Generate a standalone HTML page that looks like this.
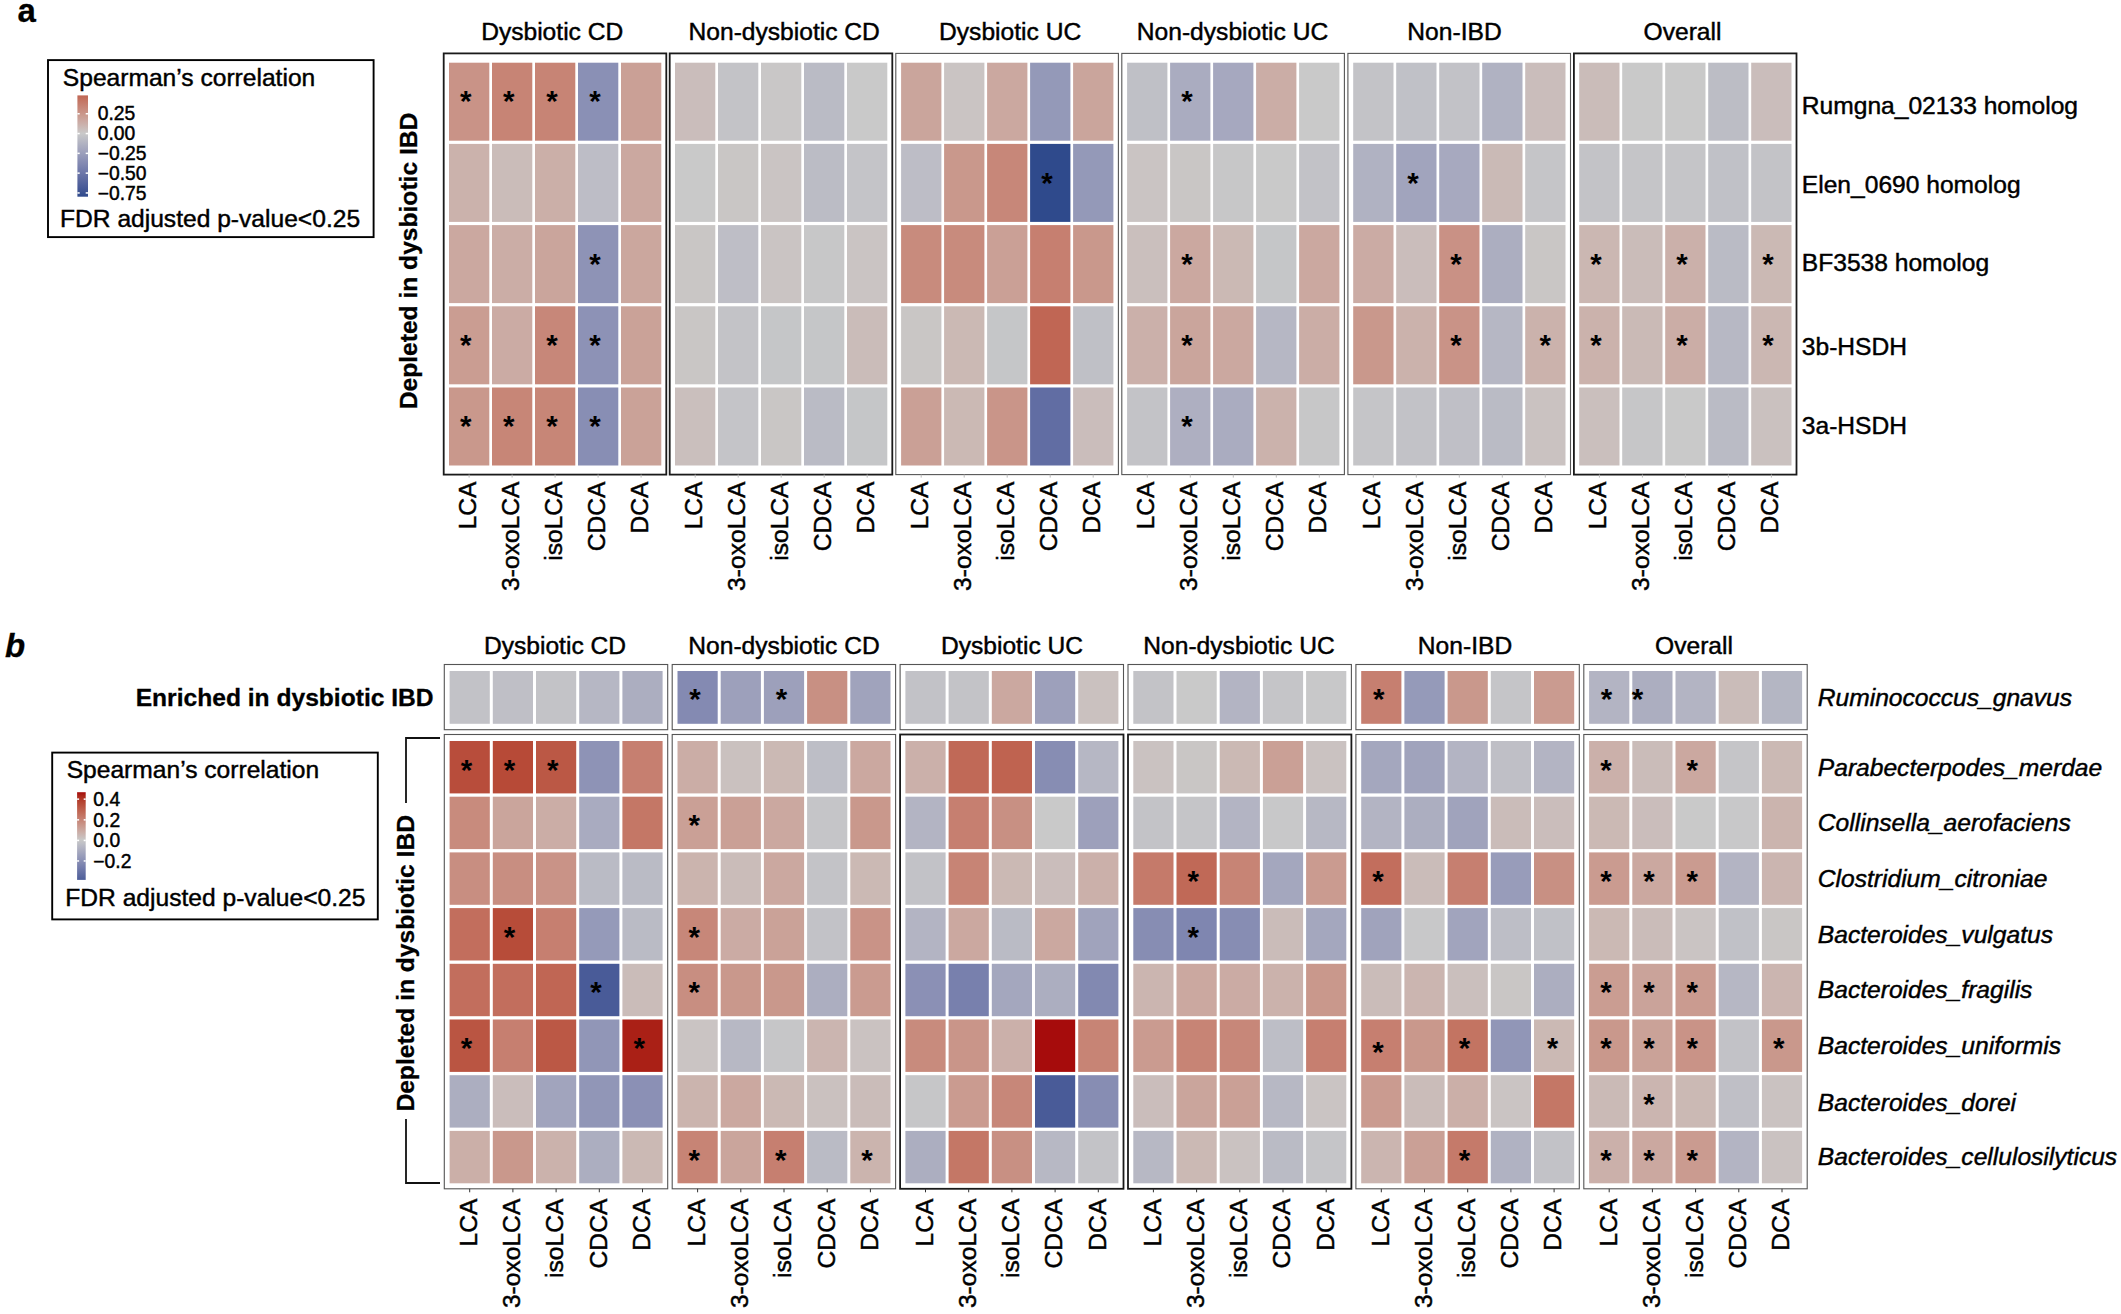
<!DOCTYPE html>
<html lang="en"><head><meta charset="utf-8"><title>Figure</title>
<style>html,body{margin:0;padding:0;background:#fff}svg{display:block}text{stroke:#000;stroke-width:.45px}text[font-weight=bold]{stroke-width:.3px}text.st{stroke:none}</style></head>
<body>
<svg width="2121" height="1314" viewBox="0 0 2121 1314" font-family='"Liberation Sans", Arial, Helvetica, sans-serif' font-size="24.6" fill="#000">
<rect x="0" y="0" width="2121" height="1314" fill="#fff"/>
<rect x="449.0" y="62.7" width="40.3" height="78.0" fill="#C99387"/>
<rect x="492.0" y="62.7" width="40.3" height="78.0" fill="#C78475"/>
<rect x="535.0" y="62.7" width="40.3" height="78.0" fill="#C78475"/>
<rect x="578.0" y="62.7" width="40.3" height="78.0" fill="#8A90B5"/>
<rect x="621.0" y="62.7" width="40.3" height="78.0" fill="#CAA096"/>
<rect x="449.0" y="143.9" width="40.3" height="78.0" fill="#CBB2AC"/>
<rect x="492.0" y="143.9" width="40.3" height="78.0" fill="#CABCB9"/>
<rect x="535.0" y="143.9" width="40.3" height="78.0" fill="#CBAFA8"/>
<rect x="578.0" y="143.9" width="40.3" height="78.0" fill="#BDBDC6"/>
<rect x="621.0" y="143.9" width="40.3" height="78.0" fill="#CBA8A0"/>
<rect x="449.0" y="225.1" width="40.3" height="78.0" fill="#CBA8A0"/>
<rect x="492.0" y="225.1" width="40.3" height="78.0" fill="#CBADA6"/>
<rect x="535.0" y="225.1" width="40.3" height="78.0" fill="#CAA59C"/>
<rect x="578.0" y="225.1" width="40.3" height="78.0" fill="#8E93B6"/>
<rect x="621.0" y="225.1" width="40.3" height="78.0" fill="#CBA79E"/>
<rect x="449.0" y="306.3" width="40.3" height="78.0" fill="#CA9D92"/>
<rect x="492.0" y="306.3" width="40.3" height="78.0" fill="#CBABA4"/>
<rect x="535.0" y="306.3" width="40.3" height="78.0" fill="#C78779"/>
<rect x="578.0" y="306.3" width="40.3" height="78.0" fill="#8D92B6"/>
<rect x="621.0" y="306.3" width="40.3" height="78.0" fill="#CAA298"/>
<rect x="449.0" y="387.5" width="40.3" height="78.0" fill="#C9988C"/>
<rect x="492.0" y="387.5" width="40.3" height="78.0" fill="#C78677"/>
<rect x="535.0" y="387.5" width="40.3" height="78.0" fill="#C78677"/>
<rect x="578.0" y="387.5" width="40.3" height="78.0" fill="#888EB4"/>
<rect x="621.0" y="387.5" width="40.3" height="78.0" fill="#CAA298"/>
<rect x="443.7" y="53.4" width="222.6" height="421.2" fill="none" stroke="#1a1a1a" stroke-width="1.8"/>
<text x="552.2" y="40" text-anchor="middle">Dysbiotic CD</text>
<line x1="469.1" y1="474.6" x2="469.1" y2="477.6" stroke="#bbb" stroke-width="1"/>
<text transform="translate(476.1,481.5) rotate(-90)" text-anchor="end">LCA</text>
<line x1="512.1" y1="474.6" x2="512.1" y2="477.6" stroke="#bbb" stroke-width="1"/>
<text transform="translate(519.1,481.5) rotate(-90)" text-anchor="end">3-oxoLCA</text>
<line x1="555.1" y1="474.6" x2="555.1" y2="477.6" stroke="#bbb" stroke-width="1"/>
<text transform="translate(562.1,481.5) rotate(-90)" text-anchor="end">isoLCA</text>
<line x1="598.1" y1="474.6" x2="598.1" y2="477.6" stroke="#bbb" stroke-width="1"/>
<text transform="translate(605.1,481.5) rotate(-90)" text-anchor="end">CDCA</text>
<line x1="641.1" y1="474.6" x2="641.1" y2="477.6" stroke="#bbb" stroke-width="1"/>
<text transform="translate(648.1,481.5) rotate(-90)" text-anchor="end">DCA</text>
<text class="st" x="465.8" y="96.7" text-anchor="middle" font-weight="bold" font-size="29.5" dy="14.7">*</text>
<text class="st" x="508.8" y="96.7" text-anchor="middle" font-weight="bold" font-size="29.5" dy="14.7">*</text>
<text class="st" x="551.9" y="96.7" text-anchor="middle" font-weight="bold" font-size="29.5" dy="14.7">*</text>
<text class="st" x="594.9" y="96.7" text-anchor="middle" font-weight="bold" font-size="29.5" dy="14.7">*</text>
<text class="st" x="594.9" y="259.1" text-anchor="middle" font-weight="bold" font-size="29.5" dy="14.7">*</text>
<text class="st" x="465.8" y="340.3" text-anchor="middle" font-weight="bold" font-size="29.5" dy="14.7">*</text>
<text class="st" x="551.9" y="340.3" text-anchor="middle" font-weight="bold" font-size="29.5" dy="14.7">*</text>
<text class="st" x="594.9" y="340.3" text-anchor="middle" font-weight="bold" font-size="29.5" dy="14.7">*</text>
<text class="st" x="465.8" y="421.5" text-anchor="middle" font-weight="bold" font-size="29.5" dy="14.7">*</text>
<text class="st" x="508.8" y="421.5" text-anchor="middle" font-weight="bold" font-size="29.5" dy="14.7">*</text>
<text class="st" x="551.9" y="421.5" text-anchor="middle" font-weight="bold" font-size="29.5" dy="14.7">*</text>
<text class="st" x="594.9" y="421.5" text-anchor="middle" font-weight="bold" font-size="29.5" dy="14.7">*</text>
<rect x="675.0" y="62.7" width="40.3" height="78.0" fill="#CABDBB"/>
<rect x="718.0" y="62.7" width="40.3" height="78.0" fill="#C3C3C7"/>
<rect x="761.0" y="62.7" width="40.3" height="78.0" fill="#C9C7C7"/>
<rect x="804.0" y="62.7" width="40.3" height="78.0" fill="#BABBC5"/>
<rect x="847.0" y="62.7" width="40.3" height="78.0" fill="#C9C9C9"/>
<rect x="675.0" y="143.9" width="40.3" height="78.0" fill="#C9C9C9"/>
<rect x="718.0" y="143.9" width="40.3" height="78.0" fill="#C9C6C5"/>
<rect x="761.0" y="143.9" width="40.3" height="78.0" fill="#CAC4C3"/>
<rect x="804.0" y="143.9" width="40.3" height="78.0" fill="#BBBCC5"/>
<rect x="847.0" y="143.9" width="40.3" height="78.0" fill="#C4C4C8"/>
<rect x="675.0" y="225.1" width="40.3" height="78.0" fill="#C9C6C5"/>
<rect x="718.0" y="225.1" width="40.3" height="78.0" fill="#BEBEC6"/>
<rect x="761.0" y="225.1" width="40.3" height="78.0" fill="#CAC4C3"/>
<rect x="804.0" y="225.1" width="40.3" height="78.0" fill="#C7C7C8"/>
<rect x="847.0" y="225.1" width="40.3" height="78.0" fill="#CAC4C3"/>
<rect x="675.0" y="306.3" width="40.3" height="78.0" fill="#C9C6C5"/>
<rect x="718.0" y="306.3" width="40.3" height="78.0" fill="#C3C3C7"/>
<rect x="761.0" y="306.3" width="40.3" height="78.0" fill="#C5C6C8"/>
<rect x="804.0" y="306.3" width="40.3" height="78.0" fill="#C5C6C8"/>
<rect x="847.0" y="306.3" width="40.3" height="78.0" fill="#CABCB9"/>
<rect x="675.0" y="387.5" width="40.3" height="78.0" fill="#CABFBD"/>
<rect x="718.0" y="387.5" width="40.3" height="78.0" fill="#C4C4C8"/>
<rect x="761.0" y="387.5" width="40.3" height="78.0" fill="#C9C6C5"/>
<rect x="804.0" y="387.5" width="40.3" height="78.0" fill="#BABBC5"/>
<rect x="847.0" y="387.5" width="40.3" height="78.0" fill="#C5C6C8"/>
<rect x="669.7" y="53.4" width="222.6" height="421.2" fill="none" stroke="#1a1a1a" stroke-width="1.8"/>
<text x="784.2" y="40" text-anchor="middle">Non-dysbiotic CD</text>
<line x1="695.2" y1="474.6" x2="695.2" y2="477.6" stroke="#bbb" stroke-width="1"/>
<text transform="translate(702.2,481.5) rotate(-90)" text-anchor="end">LCA</text>
<line x1="738.2" y1="474.6" x2="738.2" y2="477.6" stroke="#bbb" stroke-width="1"/>
<text transform="translate(745.2,481.5) rotate(-90)" text-anchor="end">3-oxoLCA</text>
<line x1="781.2" y1="474.6" x2="781.2" y2="477.6" stroke="#bbb" stroke-width="1"/>
<text transform="translate(788.2,481.5) rotate(-90)" text-anchor="end">isoLCA</text>
<line x1="824.2" y1="474.6" x2="824.2" y2="477.6" stroke="#bbb" stroke-width="1"/>
<text transform="translate(831.2,481.5) rotate(-90)" text-anchor="end">CDCA</text>
<line x1="867.2" y1="474.6" x2="867.2" y2="477.6" stroke="#bbb" stroke-width="1"/>
<text transform="translate(874.2,481.5) rotate(-90)" text-anchor="end">DCA</text>
<rect x="901.1" y="62.7" width="40.3" height="78.0" fill="#CAA59C"/>
<rect x="944.1" y="62.7" width="40.3" height="78.0" fill="#CAC4C3"/>
<rect x="987.1" y="62.7" width="40.3" height="78.0" fill="#CBA8A0"/>
<rect x="1030.1" y="62.7" width="40.3" height="78.0" fill="#9499B8"/>
<rect x="1073.1" y="62.7" width="40.3" height="78.0" fill="#CAA59C"/>
<rect x="901.1" y="143.9" width="40.3" height="78.0" fill="#BDBDC6"/>
<rect x="944.1" y="143.9" width="40.3" height="78.0" fill="#C9988C"/>
<rect x="987.1" y="143.9" width="40.3" height="78.0" fill="#C78779"/>
<rect x="1030.1" y="143.9" width="40.3" height="78.0" fill="#2F4A8C"/>
<rect x="1073.1" y="143.9" width="40.3" height="78.0" fill="#9499B8"/>
<rect x="901.1" y="225.1" width="40.3" height="78.0" fill="#C88B7D"/>
<rect x="944.1" y="225.1" width="40.3" height="78.0" fill="#C88B7D"/>
<rect x="987.1" y="225.1" width="40.3" height="78.0" fill="#CAA096"/>
<rect x="1030.1" y="225.1" width="40.3" height="78.0" fill="#C67F70"/>
<rect x="1073.1" y="225.1" width="40.3" height="78.0" fill="#C9988C"/>
<rect x="901.1" y="306.3" width="40.3" height="78.0" fill="#C9C6C5"/>
<rect x="944.1" y="306.3" width="40.3" height="78.0" fill="#CBB9B4"/>
<rect x="987.1" y="306.3" width="40.3" height="78.0" fill="#C5C6C8"/>
<rect x="1030.1" y="306.3" width="40.3" height="78.0" fill="#C06654"/>
<rect x="1073.1" y="306.3" width="40.3" height="78.0" fill="#BFC0C6"/>
<rect x="901.1" y="387.5" width="40.3" height="78.0" fill="#CAA096"/>
<rect x="944.1" y="387.5" width="40.3" height="78.0" fill="#CBB9B4"/>
<rect x="987.1" y="387.5" width="40.3" height="78.0" fill="#C99589"/>
<rect x="1030.1" y="387.5" width="40.3" height="78.0" fill="#616DA3"/>
<rect x="1073.1" y="387.5" width="40.3" height="78.0" fill="#CABDBB"/>
<rect x="895.8" y="53.4" width="222.6" height="421.2" fill="none" stroke="#555" stroke-width="1.1"/>
<text x="1010.1" y="40" text-anchor="middle">Dysbiotic UC</text>
<line x1="921.2" y1="474.6" x2="921.2" y2="477.6" stroke="#bbb" stroke-width="1"/>
<text transform="translate(928.2,481.5) rotate(-90)" text-anchor="end">LCA</text>
<line x1="964.2" y1="474.6" x2="964.2" y2="477.6" stroke="#bbb" stroke-width="1"/>
<text transform="translate(971.2,481.5) rotate(-90)" text-anchor="end">3-oxoLCA</text>
<line x1="1007.2" y1="474.6" x2="1007.2" y2="477.6" stroke="#bbb" stroke-width="1"/>
<text transform="translate(1014.2,481.5) rotate(-90)" text-anchor="end">isoLCA</text>
<line x1="1050.2" y1="474.6" x2="1050.2" y2="477.6" stroke="#bbb" stroke-width="1"/>
<text transform="translate(1057.2,481.5) rotate(-90)" text-anchor="end">CDCA</text>
<line x1="1093.2" y1="474.6" x2="1093.2" y2="477.6" stroke="#bbb" stroke-width="1"/>
<text transform="translate(1100.2,481.5) rotate(-90)" text-anchor="end">DCA</text>
<text class="st" x="1046.9" y="177.9" text-anchor="middle" font-weight="bold" font-size="29.5" dy="14.7">*</text>
<rect x="1127.1" y="62.7" width="40.3" height="78.0" fill="#BFC0C6"/>
<rect x="1170.1" y="62.7" width="40.3" height="78.0" fill="#AAACC0"/>
<rect x="1213.1" y="62.7" width="40.3" height="78.0" fill="#A6A8BF"/>
<rect x="1256.1" y="62.7" width="40.3" height="78.0" fill="#CBADA6"/>
<rect x="1299.1" y="62.7" width="40.3" height="78.0" fill="#C9C9C9"/>
<rect x="1127.1" y="143.9" width="40.3" height="78.0" fill="#CAC4C3"/>
<rect x="1170.1" y="143.9" width="40.3" height="78.0" fill="#C9C6C5"/>
<rect x="1213.1" y="143.9" width="40.3" height="78.0" fill="#C7C7C8"/>
<rect x="1256.1" y="143.9" width="40.3" height="78.0" fill="#C9C9C9"/>
<rect x="1299.1" y="143.9" width="40.3" height="78.0" fill="#C2C2C7"/>
<rect x="1127.1" y="225.1" width="40.3" height="78.0" fill="#CABFBD"/>
<rect x="1170.1" y="225.1" width="40.3" height="78.0" fill="#CBA8A0"/>
<rect x="1213.1" y="225.1" width="40.3" height="78.0" fill="#CBB9B4"/>
<rect x="1256.1" y="225.1" width="40.3" height="78.0" fill="#C5C6C8"/>
<rect x="1299.1" y="225.1" width="40.3" height="78.0" fill="#CBA8A0"/>
<rect x="1127.1" y="306.3" width="40.3" height="78.0" fill="#CBB0AA"/>
<rect x="1170.1" y="306.3" width="40.3" height="78.0" fill="#CAA59C"/>
<rect x="1213.1" y="306.3" width="40.3" height="78.0" fill="#CBA8A0"/>
<rect x="1256.1" y="306.3" width="40.3" height="78.0" fill="#B6B7C4"/>
<rect x="1299.1" y="306.3" width="40.3" height="78.0" fill="#CBADA6"/>
<rect x="1127.1" y="387.5" width="40.3" height="78.0" fill="#C3C3C7"/>
<rect x="1170.1" y="387.5" width="40.3" height="78.0" fill="#AEAFC1"/>
<rect x="1213.1" y="387.5" width="40.3" height="78.0" fill="#AAACC0"/>
<rect x="1256.1" y="387.5" width="40.3" height="78.0" fill="#CBB2AC"/>
<rect x="1299.1" y="387.5" width="40.3" height="78.0" fill="#C7C7C8"/>
<rect x="1121.8" y="53.4" width="222.6" height="421.2" fill="none" stroke="#555" stroke-width="1.1"/>
<text x="1232.5" y="40" text-anchor="middle">Non-dysbiotic UC</text>
<line x1="1147.3" y1="474.6" x2="1147.3" y2="477.6" stroke="#bbb" stroke-width="1"/>
<text transform="translate(1154.3,481.5) rotate(-90)" text-anchor="end">LCA</text>
<line x1="1190.3" y1="474.6" x2="1190.3" y2="477.6" stroke="#bbb" stroke-width="1"/>
<text transform="translate(1197.3,481.5) rotate(-90)" text-anchor="end">3-oxoLCA</text>
<line x1="1233.3" y1="474.6" x2="1233.3" y2="477.6" stroke="#bbb" stroke-width="1"/>
<text transform="translate(1240.3,481.5) rotate(-90)" text-anchor="end">isoLCA</text>
<line x1="1276.3" y1="474.6" x2="1276.3" y2="477.6" stroke="#bbb" stroke-width="1"/>
<text transform="translate(1283.3,481.5) rotate(-90)" text-anchor="end">CDCA</text>
<line x1="1319.3" y1="474.6" x2="1319.3" y2="477.6" stroke="#bbb" stroke-width="1"/>
<text transform="translate(1326.3,481.5) rotate(-90)" text-anchor="end">DCA</text>
<text class="st" x="1187.0" y="96.7" text-anchor="middle" font-weight="bold" font-size="29.5" dy="14.7">*</text>
<text class="st" x="1187.0" y="259.1" text-anchor="middle" font-weight="bold" font-size="29.5" dy="14.7">*</text>
<text class="st" x="1187.0" y="340.3" text-anchor="middle" font-weight="bold" font-size="29.5" dy="14.7">*</text>
<text class="st" x="1187.0" y="421.5" text-anchor="middle" font-weight="bold" font-size="29.5" dy="14.7">*</text>
<rect x="1353.2" y="62.7" width="40.3" height="78.0" fill="#C3C3C7"/>
<rect x="1396.2" y="62.7" width="40.3" height="78.0" fill="#C0C1C7"/>
<rect x="1439.2" y="62.7" width="40.3" height="78.0" fill="#C2C2C7"/>
<rect x="1482.2" y="62.7" width="40.3" height="78.0" fill="#B0B2C2"/>
<rect x="1525.2" y="62.7" width="40.3" height="78.0" fill="#CABDBB"/>
<rect x="1353.2" y="143.9" width="40.3" height="78.0" fill="#B0B2C2"/>
<rect x="1396.2" y="143.9" width="40.3" height="78.0" fill="#A1A4BD"/>
<rect x="1439.2" y="143.9" width="40.3" height="78.0" fill="#A7A9BF"/>
<rect x="1482.2" y="143.9" width="40.3" height="78.0" fill="#CABAB6"/>
<rect x="1525.2" y="143.9" width="40.3" height="78.0" fill="#C5C5C8"/>
<rect x="1353.2" y="225.1" width="40.3" height="78.0" fill="#CBABA4"/>
<rect x="1396.2" y="225.1" width="40.3" height="78.0" fill="#CABDBB"/>
<rect x="1439.2" y="225.1" width="40.3" height="78.0" fill="#C99185"/>
<rect x="1482.2" y="225.1" width="40.3" height="78.0" fill="#ACAEC0"/>
<rect x="1525.2" y="225.1" width="40.3" height="78.0" fill="#C9C6C5"/>
<rect x="1353.2" y="306.3" width="40.3" height="78.0" fill="#C9988C"/>
<rect x="1396.2" y="306.3" width="40.3" height="78.0" fill="#CBB2AC"/>
<rect x="1439.2" y="306.3" width="40.3" height="78.0" fill="#C99387"/>
<rect x="1482.2" y="306.3" width="40.3" height="78.0" fill="#B6B7C4"/>
<rect x="1525.2" y="306.3" width="40.3" height="78.0" fill="#CBB2AC"/>
<rect x="1353.2" y="387.5" width="40.3" height="78.0" fill="#C5C5C8"/>
<rect x="1396.2" y="387.5" width="40.3" height="78.0" fill="#C2C2C7"/>
<rect x="1439.2" y="387.5" width="40.3" height="78.0" fill="#BFBFC6"/>
<rect x="1482.2" y="387.5" width="40.3" height="78.0" fill="#BABBC5"/>
<rect x="1525.2" y="387.5" width="40.3" height="78.0" fill="#CAC2C1"/>
<rect x="1347.9" y="53.4" width="222.6" height="421.2" fill="none" stroke="#555" stroke-width="1.1"/>
<text x="1454.5" y="40" text-anchor="middle">Non-IBD</text>
<line x1="1373.3" y1="474.6" x2="1373.3" y2="477.6" stroke="#bbb" stroke-width="1"/>
<text transform="translate(1380.3,481.5) rotate(-90)" text-anchor="end">LCA</text>
<line x1="1416.3" y1="474.6" x2="1416.3" y2="477.6" stroke="#bbb" stroke-width="1"/>
<text transform="translate(1423.3,481.5) rotate(-90)" text-anchor="end">3-oxoLCA</text>
<line x1="1459.3" y1="474.6" x2="1459.3" y2="477.6" stroke="#bbb" stroke-width="1"/>
<text transform="translate(1466.3,481.5) rotate(-90)" text-anchor="end">isoLCA</text>
<line x1="1502.3" y1="474.6" x2="1502.3" y2="477.6" stroke="#bbb" stroke-width="1"/>
<text transform="translate(1509.3,481.5) rotate(-90)" text-anchor="end">CDCA</text>
<line x1="1545.3" y1="474.6" x2="1545.3" y2="477.6" stroke="#bbb" stroke-width="1"/>
<text transform="translate(1552.3,481.5) rotate(-90)" text-anchor="end">DCA</text>
<text class="st" x="1413.0" y="177.9" text-anchor="middle" font-weight="bold" font-size="29.5" dy="14.7">*</text>
<text class="st" x="1456.0" y="259.1" text-anchor="middle" font-weight="bold" font-size="29.5" dy="14.7">*</text>
<text class="st" x="1456.0" y="340.3" text-anchor="middle" font-weight="bold" font-size="29.5" dy="14.7">*</text>
<text class="st" x="1545.3" y="340.3" text-anchor="middle" font-weight="bold" font-size="29.5" dy="14.7">*</text>
<rect x="1579.2" y="62.7" width="40.3" height="78.0" fill="#CABCB9"/>
<rect x="1622.2" y="62.7" width="40.3" height="78.0" fill="#C9C9C9"/>
<rect x="1665.2" y="62.7" width="40.3" height="78.0" fill="#C9C9C9"/>
<rect x="1708.2" y="62.7" width="40.3" height="78.0" fill="#BCBDC5"/>
<rect x="1751.2" y="62.7" width="40.3" height="78.0" fill="#CABDBB"/>
<rect x="1579.2" y="143.9" width="40.3" height="78.0" fill="#C3C3C7"/>
<rect x="1622.2" y="143.9" width="40.3" height="78.0" fill="#C5C5C8"/>
<rect x="1665.2" y="143.9" width="40.3" height="78.0" fill="#C5C5C8"/>
<rect x="1708.2" y="143.9" width="40.3" height="78.0" fill="#C0C1C7"/>
<rect x="1751.2" y="143.9" width="40.3" height="78.0" fill="#C3C3C7"/>
<rect x="1579.2" y="225.1" width="40.3" height="78.0" fill="#CBB7B2"/>
<rect x="1622.2" y="225.1" width="40.3" height="78.0" fill="#CABCB9"/>
<rect x="1665.2" y="225.1" width="40.3" height="78.0" fill="#CBB0AA"/>
<rect x="1708.2" y="225.1" width="40.3" height="78.0" fill="#BABBC5"/>
<rect x="1751.2" y="225.1" width="40.3" height="78.0" fill="#CBB9B4"/>
<rect x="1579.2" y="306.3" width="40.3" height="78.0" fill="#CBB2AC"/>
<rect x="1622.2" y="306.3" width="40.3" height="78.0" fill="#CABAB6"/>
<rect x="1665.2" y="306.3" width="40.3" height="78.0" fill="#CBADA6"/>
<rect x="1708.2" y="306.3" width="40.3" height="78.0" fill="#B7B8C4"/>
<rect x="1751.2" y="306.3" width="40.3" height="78.0" fill="#CBB7B2"/>
<rect x="1579.2" y="387.5" width="40.3" height="78.0" fill="#CABFBD"/>
<rect x="1622.2" y="387.5" width="40.3" height="78.0" fill="#C6C6C8"/>
<rect x="1665.2" y="387.5" width="40.3" height="78.0" fill="#C9C9C9"/>
<rect x="1708.2" y="387.5" width="40.3" height="78.0" fill="#BABBC5"/>
<rect x="1751.2" y="387.5" width="40.3" height="78.0" fill="#CAC1BF"/>
<rect x="1573.9" y="53.4" width="222.6" height="421.2" fill="none" stroke="#1a1a1a" stroke-width="1.8"/>
<text x="1682.5" y="40" text-anchor="middle">Overall</text>
<line x1="1599.4" y1="474.6" x2="1599.4" y2="477.6" stroke="#bbb" stroke-width="1"/>
<text transform="translate(1606.4,481.5) rotate(-90)" text-anchor="end">LCA</text>
<line x1="1642.4" y1="474.6" x2="1642.4" y2="477.6" stroke="#bbb" stroke-width="1"/>
<text transform="translate(1649.4,481.5) rotate(-90)" text-anchor="end">3-oxoLCA</text>
<line x1="1685.4" y1="474.6" x2="1685.4" y2="477.6" stroke="#bbb" stroke-width="1"/>
<text transform="translate(1692.4,481.5) rotate(-90)" text-anchor="end">isoLCA</text>
<line x1="1728.4" y1="474.6" x2="1728.4" y2="477.6" stroke="#bbb" stroke-width="1"/>
<text transform="translate(1735.4,481.5) rotate(-90)" text-anchor="end">CDCA</text>
<line x1="1771.4" y1="474.6" x2="1771.4" y2="477.6" stroke="#bbb" stroke-width="1"/>
<text transform="translate(1778.4,481.5) rotate(-90)" text-anchor="end">DCA</text>
<text class="st" x="1596.1" y="259.1" text-anchor="middle" font-weight="bold" font-size="29.5" dy="14.7">*</text>
<text class="st" x="1682.1" y="259.1" text-anchor="middle" font-weight="bold" font-size="29.5" dy="14.7">*</text>
<text class="st" x="1768.1" y="259.1" text-anchor="middle" font-weight="bold" font-size="29.5" dy="14.7">*</text>
<text class="st" x="1596.1" y="340.3" text-anchor="middle" font-weight="bold" font-size="29.5" dy="14.7">*</text>
<text class="st" x="1682.1" y="340.3" text-anchor="middle" font-weight="bold" font-size="29.5" dy="14.7">*</text>
<text class="st" x="1768.1" y="340.3" text-anchor="middle" font-weight="bold" font-size="29.5" dy="14.7">*</text>
<text x="1801.8" y="113.9">Rumgna_02133 homolog</text>
<text x="1801.8" y="192.5">Elen_0690 homolog</text>
<text x="1801.8" y="271.3">BF3538 homolog</text>
<text x="1801.8" y="355.1">3b-HSDH</text>
<text x="1801.8" y="434.2">3a-HSDH</text>
<text transform="translate(417.3,261) rotate(-90)" text-anchor="middle" font-weight="bold">Depleted in dysbiotic IBD</text>
<text x="17.5" y="22.2" font-weight="bold" font-size="33">a</text>
<rect x="48" y="60.1" width="325.6" height="177" fill="#fff" stroke="#000" stroke-width="1.9"/>
<text x="62.8" y="85.6">Spearman’s correlation</text>
<text x="60" y="226.7">FDR adjusted p-value&lt;0.25</text>
<defs><linearGradient id="ga" x1="0" y1="0" x2="0" y2="1"><stop offset="0.0000" stop-color="#C06654"/><stop offset="0.0417" stop-color="#C37260"/><stop offset="0.0833" stop-color="#C57D6D"/><stop offset="0.1250" stop-color="#C7887A"/><stop offset="0.1667" stop-color="#C99386"/><stop offset="0.2083" stop-color="#CA9E93"/><stop offset="0.2500" stop-color="#CBA8A1"/><stop offset="0.2917" stop-color="#CBB3AE"/><stop offset="0.3333" stop-color="#CABEBC"/><stop offset="0.3750" stop-color="#C9C9C9"/><stop offset="0.4167" stop-color="#BFC0C6"/><stop offset="0.4583" stop-color="#B5B6C3"/><stop offset="0.5000" stop-color="#ABADC0"/><stop offset="0.5417" stop-color="#A2A4BD"/><stop offset="0.5833" stop-color="#989CBA"/><stop offset="0.6250" stop-color="#8E93B6"/><stop offset="0.6667" stop-color="#848AB2"/><stop offset="0.7083" stop-color="#7A82AE"/><stop offset="0.7500" stop-color="#7079AA"/><stop offset="0.7917" stop-color="#6671A5"/><stop offset="0.8333" stop-color="#5C69A0"/><stop offset="0.8750" stop-color="#51619C"/><stop offset="0.9167" stop-color="#475997"/><stop offset="0.9583" stop-color="#3B5291"/><stop offset="1.0000" stop-color="#2F4A8C"/></linearGradient><linearGradient id="gb" x1="0" y1="0" x2="0" y2="1"><stop offset="0.0000" stop-color="#A60C0C"/><stop offset="0.0417" stop-color="#AC271A"/><stop offset="0.0833" stop-color="#B13828"/><stop offset="0.1250" stop-color="#B64835"/><stop offset="0.1667" stop-color="#BB5543"/><stop offset="0.2083" stop-color="#BF6350"/><stop offset="0.2500" stop-color="#C2705E"/><stop offset="0.2917" stop-color="#C57C6D"/><stop offset="0.3333" stop-color="#C7897B"/><stop offset="0.3750" stop-color="#C9968A"/><stop offset="0.4167" stop-color="#CAA299"/><stop offset="0.4583" stop-color="#CBAFA8"/><stop offset="0.5000" stop-color="#CABBB8"/><stop offset="0.5417" stop-color="#C9C8C7"/><stop offset="0.5833" stop-color="#BFC0C6"/><stop offset="0.6250" stop-color="#B4B5C3"/><stop offset="0.6667" stop-color="#A9ABBF"/><stop offset="0.7083" stop-color="#9DA1BC"/><stop offset="0.7500" stop-color="#9297B8"/><stop offset="0.7917" stop-color="#878DB3"/><stop offset="0.8333" stop-color="#7B83AE"/><stop offset="0.8750" stop-color="#7079AA"/><stop offset="0.9167" stop-color="#6470A4"/><stop offset="0.9583" stop-color="#59679F"/><stop offset="1.0000" stop-color="#4D5E99"/></linearGradient></defs>
<rect x="77.4" y="95.4" width="10.6" height="101.3" fill="url(#ga)"/>
<text x="97.7" y="120.4" font-size="19.3">0.25</text>
<rect x="77.4" y="113.0" width="2.3" height="1.5" fill="#fff"/><rect x="85.7" y="113.0" width="2.3" height="1.5" fill="#fff"/>
<text x="97.7" y="140.2" font-size="19.3">0.00</text>
<rect x="77.4" y="132.8" width="2.3" height="1.5" fill="#fff"/><rect x="85.7" y="132.8" width="2.3" height="1.5" fill="#fff"/>
<text x="97.7" y="160.0" font-size="19.3">−0.25</text>
<rect x="77.4" y="152.6" width="2.3" height="1.5" fill="#fff"/><rect x="85.7" y="152.6" width="2.3" height="1.5" fill="#fff"/>
<text x="97.7" y="179.8" font-size="19.3">−0.50</text>
<rect x="77.4" y="172.4" width="2.3" height="1.5" fill="#fff"/><rect x="85.7" y="172.4" width="2.3" height="1.5" fill="#fff"/>
<text x="97.7" y="199.6" font-size="19.3">−0.75</text>
<rect x="77.4" y="192.2" width="2.3" height="1.5" fill="#fff"/><rect x="85.7" y="192.2" width="2.3" height="1.5" fill="#fff"/>
<rect x="449.6" y="671.0" width="40.2" height="52.8" fill="#C2C2C7"/>
<rect x="492.8" y="671.0" width="40.2" height="52.8" fill="#BFBFC6"/>
<rect x="536.0" y="671.0" width="40.2" height="52.8" fill="#C3C3C7"/>
<rect x="579.2" y="671.0" width="40.2" height="52.8" fill="#B6B7C4"/>
<rect x="622.4" y="671.0" width="40.2" height="52.8" fill="#ACAEC0"/>
<rect x="449.6" y="741.0" width="40.2" height="52.4" fill="#B84D3B"/>
<rect x="492.8" y="741.0" width="40.2" height="52.4" fill="#B74A37"/>
<rect x="536.0" y="741.0" width="40.2" height="52.4" fill="#BB5845"/>
<rect x="579.2" y="741.0" width="40.2" height="52.4" fill="#8E93B6"/>
<rect x="622.4" y="741.0" width="40.2" height="52.4" fill="#C67F70"/>
<rect x="449.6" y="796.7" width="40.2" height="52.4" fill="#C88B7D"/>
<rect x="492.8" y="796.7" width="40.2" height="52.4" fill="#CAA59C"/>
<rect x="536.0" y="796.7" width="40.2" height="52.4" fill="#CBADA6"/>
<rect x="579.2" y="796.7" width="40.2" height="52.4" fill="#A9ABC0"/>
<rect x="622.4" y="796.7" width="40.2" height="52.4" fill="#C47766"/>
<rect x="449.6" y="852.4" width="40.2" height="52.4" fill="#C88E81"/>
<rect x="492.8" y="852.4" width="40.2" height="52.4" fill="#C88E81"/>
<rect x="536.0" y="852.4" width="40.2" height="52.4" fill="#C99387"/>
<rect x="579.2" y="852.4" width="40.2" height="52.4" fill="#BABBC5"/>
<rect x="622.4" y="852.4" width="40.2" height="52.4" fill="#BABBC5"/>
<rect x="449.6" y="908.1" width="40.2" height="52.4" fill="#C26E5D"/>
<rect x="492.8" y="908.1" width="40.2" height="52.4" fill="#B74C39"/>
<rect x="536.0" y="908.1" width="40.2" height="52.4" fill="#C67F70"/>
<rect x="579.2" y="908.1" width="40.2" height="52.4" fill="#959AB9"/>
<rect x="622.4" y="908.1" width="40.2" height="52.4" fill="#BABBC5"/>
<rect x="449.6" y="963.8" width="40.2" height="52.4" fill="#C26E5D"/>
<rect x="492.8" y="963.8" width="40.2" height="52.4" fill="#C26E5D"/>
<rect x="536.0" y="963.8" width="40.2" height="52.4" fill="#C06654"/>
<rect x="579.2" y="963.8" width="40.2" height="52.4" fill="#495B98"/>
<rect x="622.4" y="963.8" width="40.2" height="52.4" fill="#CABCB9"/>
<rect x="449.6" y="1019.5" width="40.2" height="52.4" fill="#BA5542"/>
<rect x="492.8" y="1019.5" width="40.2" height="52.4" fill="#C67F70"/>
<rect x="536.0" y="1019.5" width="40.2" height="52.4" fill="#BB5845"/>
<rect x="579.2" y="1019.5" width="40.2" height="52.4" fill="#9196B7"/>
<rect x="622.4" y="1019.5" width="40.2" height="52.4" fill="#AA2016"/>
<rect x="449.6" y="1075.2" width="40.2" height="52.4" fill="#ACAEC0"/>
<rect x="492.8" y="1075.2" width="40.2" height="52.4" fill="#CABDBB"/>
<rect x="536.0" y="1075.2" width="40.2" height="52.4" fill="#A1A4BD"/>
<rect x="579.2" y="1075.2" width="40.2" height="52.4" fill="#9196B7"/>
<rect x="622.4" y="1075.2" width="40.2" height="52.4" fill="#8B90B5"/>
<rect x="449.6" y="1130.9" width="40.2" height="52.4" fill="#CBAFA8"/>
<rect x="492.8" y="1130.9" width="40.2" height="52.4" fill="#C9988C"/>
<rect x="536.0" y="1130.9" width="40.2" height="52.4" fill="#CBB2AC"/>
<rect x="579.2" y="1130.9" width="40.2" height="52.4" fill="#ACAEC0"/>
<rect x="622.4" y="1130.9" width="40.2" height="52.4" fill="#CBB9B4"/>
<rect x="444.3" y="664.5" width="223.4" height="65.2" fill="none" stroke="#555" stroke-width="1.1"/>
<rect x="444.3" y="734.5" width="223.4" height="454.3" fill="none" stroke="#555" stroke-width="1.1"/>
<text x="555" y="654.2" text-anchor="middle">Dysbiotic CD</text>
<line x1="469.7" y1="1188.8" x2="469.7" y2="1192.3" stroke="#333" stroke-width="1"/>
<text transform="translate(477.0,1198.7) rotate(-90)" text-anchor="end">LCA</text>
<line x1="512.9" y1="1188.8" x2="512.9" y2="1192.3" stroke="#333" stroke-width="1"/>
<text transform="translate(520.2,1198.7) rotate(-90)" text-anchor="end">3-oxoLCA</text>
<line x1="556.1" y1="1188.8" x2="556.1" y2="1192.3" stroke="#333" stroke-width="1"/>
<text transform="translate(563.4,1198.7) rotate(-90)" text-anchor="end">isoLCA</text>
<line x1="599.3" y1="1188.8" x2="599.3" y2="1192.3" stroke="#333" stroke-width="1"/>
<text transform="translate(606.6,1198.7) rotate(-90)" text-anchor="end">CDCA</text>
<line x1="642.5" y1="1188.8" x2="642.5" y2="1192.3" stroke="#333" stroke-width="1"/>
<text transform="translate(649.8,1198.7) rotate(-90)" text-anchor="end">DCA</text>
<text class="st" x="466.4" y="764.9" text-anchor="middle" font-weight="bold" font-size="29.5" dy="14.7">*</text>
<text class="st" x="509.6" y="764.9" text-anchor="middle" font-weight="bold" font-size="29.5" dy="14.7">*</text>
<text class="st" x="552.8" y="764.9" text-anchor="middle" font-weight="bold" font-size="29.5" dy="14.7">*</text>
<text class="st" x="509.6" y="932.0" text-anchor="middle" font-weight="bold" font-size="29.5" dy="14.7">*</text>
<text class="st" x="596.0" y="987.7" text-anchor="middle" font-weight="bold" font-size="29.5" dy="14.7">*</text>
<text class="st" x="466.4" y="1043.4" text-anchor="middle" font-weight="bold" font-size="29.5" dy="14.7">*</text>
<text class="st" x="639.2" y="1043.4" text-anchor="middle" font-weight="bold" font-size="29.5" dy="14.7">*</text>
<rect x="677.5" y="671.0" width="40.2" height="52.8" fill="#848AB2"/>
<rect x="720.7" y="671.0" width="40.2" height="52.8" fill="#9DA0BB"/>
<rect x="763.9" y="671.0" width="40.2" height="52.8" fill="#9DA0BB"/>
<rect x="807.1" y="671.0" width="40.2" height="52.8" fill="#C89083"/>
<rect x="850.3" y="671.0" width="40.2" height="52.8" fill="#A0A3BC"/>
<rect x="677.5" y="741.0" width="40.2" height="52.4" fill="#CBADA6"/>
<rect x="720.7" y="741.0" width="40.2" height="52.4" fill="#CAC1BF"/>
<rect x="763.9" y="741.0" width="40.2" height="52.4" fill="#CBB9B4"/>
<rect x="807.1" y="741.0" width="40.2" height="52.4" fill="#BDBEC6"/>
<rect x="850.3" y="741.0" width="40.2" height="52.4" fill="#CBA8A0"/>
<rect x="677.5" y="796.7" width="40.2" height="52.4" fill="#CAA096"/>
<rect x="720.7" y="796.7" width="40.2" height="52.4" fill="#CAA096"/>
<rect x="763.9" y="796.7" width="40.2" height="52.4" fill="#CBA8A0"/>
<rect x="807.1" y="796.7" width="40.2" height="52.4" fill="#C5C5C8"/>
<rect x="850.3" y="796.7" width="40.2" height="52.4" fill="#C9988C"/>
<rect x="677.5" y="852.4" width="40.2" height="52.4" fill="#CBB4AE"/>
<rect x="720.7" y="852.4" width="40.2" height="52.4" fill="#CABCB9"/>
<rect x="763.9" y="852.4" width="40.2" height="52.4" fill="#CBA8A0"/>
<rect x="807.1" y="852.4" width="40.2" height="52.4" fill="#C3C3C7"/>
<rect x="850.3" y="852.4" width="40.2" height="52.4" fill="#CBB9B4"/>
<rect x="677.5" y="908.1" width="40.2" height="52.4" fill="#C78779"/>
<rect x="720.7" y="908.1" width="40.2" height="52.4" fill="#CBABA4"/>
<rect x="763.9" y="908.1" width="40.2" height="52.4" fill="#CAA298"/>
<rect x="807.1" y="908.1" width="40.2" height="52.4" fill="#C2C2C7"/>
<rect x="850.3" y="908.1" width="40.2" height="52.4" fill="#C99387"/>
<rect x="677.5" y="963.8" width="40.2" height="52.4" fill="#C88E81"/>
<rect x="720.7" y="963.8" width="40.2" height="52.4" fill="#C9988C"/>
<rect x="763.9" y="963.8" width="40.2" height="52.4" fill="#C9988C"/>
<rect x="807.1" y="963.8" width="40.2" height="52.4" fill="#ACAEC0"/>
<rect x="850.3" y="963.8" width="40.2" height="52.4" fill="#CA9B90"/>
<rect x="677.5" y="1019.5" width="40.2" height="52.4" fill="#CAC4C3"/>
<rect x="720.7" y="1019.5" width="40.2" height="52.4" fill="#B7B8C4"/>
<rect x="763.9" y="1019.5" width="40.2" height="52.4" fill="#C6C6C8"/>
<rect x="807.1" y="1019.5" width="40.2" height="52.4" fill="#CBB5B0"/>
<rect x="850.3" y="1019.5" width="40.2" height="52.4" fill="#CAC2C1"/>
<rect x="677.5" y="1075.2" width="40.2" height="52.4" fill="#CBB4AE"/>
<rect x="720.7" y="1075.2" width="40.2" height="52.4" fill="#CBA8A0"/>
<rect x="763.9" y="1075.2" width="40.2" height="52.4" fill="#CBB9B4"/>
<rect x="807.1" y="1075.2" width="40.2" height="52.4" fill="#CAC1BF"/>
<rect x="850.3" y="1075.2" width="40.2" height="52.4" fill="#CABCB9"/>
<rect x="677.5" y="1130.9" width="40.2" height="52.4" fill="#C78475"/>
<rect x="720.7" y="1130.9" width="40.2" height="52.4" fill="#CAA59C"/>
<rect x="763.9" y="1130.9" width="40.2" height="52.4" fill="#C67F70"/>
<rect x="807.1" y="1130.9" width="40.2" height="52.4" fill="#BABBC5"/>
<rect x="850.3" y="1130.9" width="40.2" height="52.4" fill="#CBB4AE"/>
<rect x="672.2" y="664.5" width="223.4" height="65.2" fill="none" stroke="#555" stroke-width="1.1"/>
<rect x="672.2" y="734.5" width="223.4" height="454.3" fill="none" stroke="#555" stroke-width="1.1"/>
<text x="784" y="654.2" text-anchor="middle">Non-dysbiotic CD</text>
<line x1="697.6" y1="1188.8" x2="697.6" y2="1192.3" stroke="#333" stroke-width="1"/>
<text transform="translate(704.9,1198.7) rotate(-90)" text-anchor="end">LCA</text>
<line x1="740.8" y1="1188.8" x2="740.8" y2="1192.3" stroke="#333" stroke-width="1"/>
<text transform="translate(748.1,1198.7) rotate(-90)" text-anchor="end">3-oxoLCA</text>
<line x1="784.0" y1="1188.8" x2="784.0" y2="1192.3" stroke="#333" stroke-width="1"/>
<text transform="translate(791.3,1198.7) rotate(-90)" text-anchor="end">isoLCA</text>
<line x1="827.2" y1="1188.8" x2="827.2" y2="1192.3" stroke="#333" stroke-width="1"/>
<text transform="translate(834.5,1198.7) rotate(-90)" text-anchor="end">CDCA</text>
<line x1="870.4" y1="1188.8" x2="870.4" y2="1192.3" stroke="#333" stroke-width="1"/>
<text transform="translate(877.7,1198.7) rotate(-90)" text-anchor="end">DCA</text>
<text class="st" x="695.0" y="694.1" text-anchor="middle" font-weight="bold" font-size="29.5" dy="14.7">*</text>
<text class="st" x="781.4" y="694.1" text-anchor="middle" font-weight="bold" font-size="29.5" dy="14.7">*</text>
<text class="st" x="694.3" y="820.6" text-anchor="middle" font-weight="bold" font-size="29.5" dy="14.7">*</text>
<text class="st" x="694.3" y="932.0" text-anchor="middle" font-weight="bold" font-size="29.5" dy="14.7">*</text>
<text class="st" x="694.3" y="987.7" text-anchor="middle" font-weight="bold" font-size="29.5" dy="14.7">*</text>
<text class="st" x="694.3" y="1154.8" text-anchor="middle" font-weight="bold" font-size="29.5" dy="14.7">*</text>
<text class="st" x="780.7" y="1154.8" text-anchor="middle" font-weight="bold" font-size="29.5" dy="14.7">*</text>
<text class="st" x="867.1" y="1154.8" text-anchor="middle" font-weight="bold" font-size="29.5" dy="14.7">*</text>
<rect x="905.4" y="671.0" width="40.2" height="52.8" fill="#C2C2C7"/>
<rect x="948.6" y="671.0" width="40.2" height="52.8" fill="#C3C3C7"/>
<rect x="991.8" y="671.0" width="40.2" height="52.8" fill="#CBA8A0"/>
<rect x="1035.0" y="671.0" width="40.2" height="52.8" fill="#9DA0BB"/>
<rect x="1078.2" y="671.0" width="40.2" height="52.8" fill="#CAC1BF"/>
<rect x="905.4" y="741.0" width="40.2" height="52.4" fill="#CBB0AA"/>
<rect x="948.6" y="741.0" width="40.2" height="52.4" fill="#C06957"/>
<rect x="991.8" y="741.0" width="40.2" height="52.4" fill="#BF6350"/>
<rect x="1035.0" y="741.0" width="40.2" height="52.4" fill="#878DB3"/>
<rect x="1078.2" y="741.0" width="40.2" height="52.4" fill="#B6B7C4"/>
<rect x="905.4" y="796.7" width="40.2" height="52.4" fill="#B3B4C3"/>
<rect x="948.6" y="796.7" width="40.2" height="52.4" fill="#C67F70"/>
<rect x="991.8" y="796.7" width="40.2" height="52.4" fill="#C89083"/>
<rect x="1035.0" y="796.7" width="40.2" height="52.4" fill="#C9C9C9"/>
<rect x="1078.2" y="796.7" width="40.2" height="52.4" fill="#9DA0BB"/>
<rect x="905.4" y="852.4" width="40.2" height="52.4" fill="#C2C2C7"/>
<rect x="948.6" y="852.4" width="40.2" height="52.4" fill="#C78475"/>
<rect x="991.8" y="852.4" width="40.2" height="52.4" fill="#CBB9B4"/>
<rect x="1035.0" y="852.4" width="40.2" height="52.4" fill="#CABDBB"/>
<rect x="1078.2" y="852.4" width="40.2" height="52.4" fill="#CBB0AA"/>
<rect x="905.4" y="908.1" width="40.2" height="52.4" fill="#B3B4C3"/>
<rect x="948.6" y="908.1" width="40.2" height="52.4" fill="#CBA8A0"/>
<rect x="991.8" y="908.1" width="40.2" height="52.4" fill="#BABBC5"/>
<rect x="1035.0" y="908.1" width="40.2" height="52.4" fill="#CBA8A0"/>
<rect x="1078.2" y="908.1" width="40.2" height="52.4" fill="#A0A3BC"/>
<rect x="905.4" y="963.8" width="40.2" height="52.4" fill="#8B90B5"/>
<rect x="948.6" y="963.8" width="40.2" height="52.4" fill="#7880AD"/>
<rect x="991.8" y="963.8" width="40.2" height="52.4" fill="#A4A7BE"/>
<rect x="1035.0" y="963.8" width="40.2" height="52.4" fill="#ACAEC0"/>
<rect x="1078.2" y="963.8" width="40.2" height="52.4" fill="#8289B1"/>
<rect x="905.4" y="1019.5" width="40.2" height="52.4" fill="#C88B7D"/>
<rect x="948.6" y="1019.5" width="40.2" height="52.4" fill="#C99589"/>
<rect x="991.8" y="1019.5" width="40.2" height="52.4" fill="#CBB0AA"/>
<rect x="1035.0" y="1019.5" width="40.2" height="52.4" fill="#A60C0C"/>
<rect x="1078.2" y="1019.5" width="40.2" height="52.4" fill="#C78475"/>
<rect x="905.4" y="1075.2" width="40.2" height="52.4" fill="#C6C6C8"/>
<rect x="948.6" y="1075.2" width="40.2" height="52.4" fill="#CA9B90"/>
<rect x="991.8" y="1075.2" width="40.2" height="52.4" fill="#C78779"/>
<rect x="1035.0" y="1075.2" width="40.2" height="52.4" fill="#495B98"/>
<rect x="1078.2" y="1075.2" width="40.2" height="52.4" fill="#878DB3"/>
<rect x="905.4" y="1130.9" width="40.2" height="52.4" fill="#ACAEC0"/>
<rect x="948.6" y="1130.9" width="40.2" height="52.4" fill="#C47766"/>
<rect x="991.8" y="1130.9" width="40.2" height="52.4" fill="#C89083"/>
<rect x="1035.0" y="1130.9" width="40.2" height="52.4" fill="#B7B8C4"/>
<rect x="1078.2" y="1130.9" width="40.2" height="52.4" fill="#C3C3C7"/>
<rect x="900.1" y="664.5" width="223.4" height="65.2" fill="none" stroke="#555" stroke-width="1.1"/>
<rect x="900.1" y="734.5" width="223.4" height="454.3" fill="none" stroke="#1a1a1a" stroke-width="1.8"/>
<text x="1012" y="654.2" text-anchor="middle">Dysbiotic UC</text>
<line x1="925.5" y1="1188.8" x2="925.5" y2="1192.3" stroke="#333" stroke-width="1"/>
<text transform="translate(932.8,1198.7) rotate(-90)" text-anchor="end">LCA</text>
<line x1="968.7" y1="1188.8" x2="968.7" y2="1192.3" stroke="#333" stroke-width="1"/>
<text transform="translate(976.0,1198.7) rotate(-90)" text-anchor="end">3-oxoLCA</text>
<line x1="1011.9" y1="1188.8" x2="1011.9" y2="1192.3" stroke="#333" stroke-width="1"/>
<text transform="translate(1019.2,1198.7) rotate(-90)" text-anchor="end">isoLCA</text>
<line x1="1055.1" y1="1188.8" x2="1055.1" y2="1192.3" stroke="#333" stroke-width="1"/>
<text transform="translate(1062.4,1198.7) rotate(-90)" text-anchor="end">CDCA</text>
<line x1="1098.3" y1="1188.8" x2="1098.3" y2="1192.3" stroke="#333" stroke-width="1"/>
<text transform="translate(1105.6,1198.7) rotate(-90)" text-anchor="end">DCA</text>
<rect x="1133.3" y="671.0" width="40.2" height="52.8" fill="#C3C3C7"/>
<rect x="1176.5" y="671.0" width="40.2" height="52.8" fill="#C9C9C9"/>
<rect x="1219.7" y="671.0" width="40.2" height="52.8" fill="#B3B4C3"/>
<rect x="1262.9" y="671.0" width="40.2" height="52.8" fill="#C5C5C8"/>
<rect x="1306.1" y="671.0" width="40.2" height="52.8" fill="#C8C8C9"/>
<rect x="1133.3" y="741.0" width="40.2" height="52.4" fill="#CAC2C1"/>
<rect x="1176.5" y="741.0" width="40.2" height="52.4" fill="#C9C6C5"/>
<rect x="1219.7" y="741.0" width="40.2" height="52.4" fill="#CBB9B4"/>
<rect x="1262.9" y="741.0" width="40.2" height="52.4" fill="#CAA096"/>
<rect x="1306.1" y="741.0" width="40.2" height="52.4" fill="#CAC2C1"/>
<rect x="1133.3" y="796.7" width="40.2" height="52.4" fill="#C3C3C7"/>
<rect x="1176.5" y="796.7" width="40.2" height="52.4" fill="#C5C5C8"/>
<rect x="1219.7" y="796.7" width="40.2" height="52.4" fill="#B3B4C3"/>
<rect x="1262.9" y="796.7" width="40.2" height="52.4" fill="#C8C8C9"/>
<rect x="1306.1" y="796.7" width="40.2" height="52.4" fill="#B7B8C4"/>
<rect x="1133.3" y="852.4" width="40.2" height="52.4" fill="#C57A6A"/>
<rect x="1176.5" y="852.4" width="40.2" height="52.4" fill="#C06957"/>
<rect x="1219.7" y="852.4" width="40.2" height="52.4" fill="#C78475"/>
<rect x="1262.9" y="852.4" width="40.2" height="52.4" fill="#A4A7BE"/>
<rect x="1306.1" y="852.4" width="40.2" height="52.4" fill="#CA9B90"/>
<rect x="1133.3" y="908.1" width="40.2" height="52.4" fill="#878DB3"/>
<rect x="1176.5" y="908.1" width="40.2" height="52.4" fill="#7F86B0"/>
<rect x="1219.7" y="908.1" width="40.2" height="52.4" fill="#878DB3"/>
<rect x="1262.9" y="908.1" width="40.2" height="52.4" fill="#CABCB9"/>
<rect x="1306.1" y="908.1" width="40.2" height="52.4" fill="#A4A7BE"/>
<rect x="1133.3" y="963.8" width="40.2" height="52.4" fill="#CBB5B0"/>
<rect x="1176.5" y="963.8" width="40.2" height="52.4" fill="#CBA8A0"/>
<rect x="1219.7" y="963.8" width="40.2" height="52.4" fill="#CBABA4"/>
<rect x="1262.9" y="963.8" width="40.2" height="52.4" fill="#CBB2AC"/>
<rect x="1306.1" y="963.8" width="40.2" height="52.4" fill="#C9988C"/>
<rect x="1133.3" y="1019.5" width="40.2" height="52.4" fill="#CA9B90"/>
<rect x="1176.5" y="1019.5" width="40.2" height="52.4" fill="#C78475"/>
<rect x="1219.7" y="1019.5" width="40.2" height="52.4" fill="#C78779"/>
<rect x="1262.9" y="1019.5" width="40.2" height="52.4" fill="#BDBEC6"/>
<rect x="1306.1" y="1019.5" width="40.2" height="52.4" fill="#C67F70"/>
<rect x="1133.3" y="1075.2" width="40.2" height="52.4" fill="#CABDBB"/>
<rect x="1176.5" y="1075.2" width="40.2" height="52.4" fill="#CAA59C"/>
<rect x="1219.7" y="1075.2" width="40.2" height="52.4" fill="#CAA096"/>
<rect x="1262.9" y="1075.2" width="40.2" height="52.4" fill="#B7B8C4"/>
<rect x="1306.1" y="1075.2" width="40.2" height="52.4" fill="#CAC4C3"/>
<rect x="1133.3" y="1130.9" width="40.2" height="52.4" fill="#B7B8C4"/>
<rect x="1176.5" y="1130.9" width="40.2" height="52.4" fill="#CBB9B4"/>
<rect x="1219.7" y="1130.9" width="40.2" height="52.4" fill="#CAC2C1"/>
<rect x="1262.9" y="1130.9" width="40.2" height="52.4" fill="#BABBC5"/>
<rect x="1306.1" y="1130.9" width="40.2" height="52.4" fill="#C5C5C8"/>
<rect x="1128.0" y="664.5" width="223.4" height="65.2" fill="none" stroke="#555" stroke-width="1.1"/>
<rect x="1128.0" y="734.5" width="223.4" height="454.3" fill="none" stroke="#1a1a1a" stroke-width="1.8"/>
<text x="1239" y="654.2" text-anchor="middle">Non-dysbiotic UC</text>
<line x1="1153.4" y1="1188.8" x2="1153.4" y2="1192.3" stroke="#333" stroke-width="1"/>
<text transform="translate(1160.7,1198.7) rotate(-90)" text-anchor="end">LCA</text>
<line x1="1196.6" y1="1188.8" x2="1196.6" y2="1192.3" stroke="#333" stroke-width="1"/>
<text transform="translate(1203.9,1198.7) rotate(-90)" text-anchor="end">3-oxoLCA</text>
<line x1="1239.8" y1="1188.8" x2="1239.8" y2="1192.3" stroke="#333" stroke-width="1"/>
<text transform="translate(1247.1,1198.7) rotate(-90)" text-anchor="end">isoLCA</text>
<line x1="1283.0" y1="1188.8" x2="1283.0" y2="1192.3" stroke="#333" stroke-width="1"/>
<text transform="translate(1290.3,1198.7) rotate(-90)" text-anchor="end">CDCA</text>
<line x1="1326.2" y1="1188.8" x2="1326.2" y2="1192.3" stroke="#333" stroke-width="1"/>
<text transform="translate(1333.5,1198.7) rotate(-90)" text-anchor="end">DCA</text>
<text class="st" x="1193.3" y="876.3" text-anchor="middle" font-weight="bold" font-size="29.5" dy="14.7">*</text>
<text class="st" x="1193.3" y="932.0" text-anchor="middle" font-weight="bold" font-size="29.5" dy="14.7">*</text>
<rect x="1361.2" y="671.0" width="40.2" height="52.8" fill="#C67F70"/>
<rect x="1404.4" y="671.0" width="40.2" height="52.8" fill="#959AB9"/>
<rect x="1447.6" y="671.0" width="40.2" height="52.8" fill="#C9988C"/>
<rect x="1490.8" y="671.0" width="40.2" height="52.8" fill="#C5C5C8"/>
<rect x="1534.0" y="671.0" width="40.2" height="52.8" fill="#CA9B90"/>
<rect x="1361.2" y="741.0" width="40.2" height="52.4" fill="#A4A7BE"/>
<rect x="1404.4" y="741.0" width="40.2" height="52.4" fill="#A0A3BC"/>
<rect x="1447.6" y="741.0" width="40.2" height="52.4" fill="#B3B4C3"/>
<rect x="1490.8" y="741.0" width="40.2" height="52.4" fill="#BFBFC6"/>
<rect x="1534.0" y="741.0" width="40.2" height="52.4" fill="#B3B4C3"/>
<rect x="1361.2" y="796.7" width="40.2" height="52.4" fill="#B3B4C3"/>
<rect x="1404.4" y="796.7" width="40.2" height="52.4" fill="#ACAEC0"/>
<rect x="1447.6" y="796.7" width="40.2" height="52.4" fill="#A0A3BC"/>
<rect x="1490.8" y="796.7" width="40.2" height="52.4" fill="#CABCB9"/>
<rect x="1534.0" y="796.7" width="40.2" height="52.4" fill="#CABDBB"/>
<rect x="1361.2" y="852.4" width="40.2" height="52.4" fill="#C26E5D"/>
<rect x="1404.4" y="852.4" width="40.2" height="52.4" fill="#CABCB9"/>
<rect x="1447.6" y="852.4" width="40.2" height="52.4" fill="#C67F70"/>
<rect x="1490.8" y="852.4" width="40.2" height="52.4" fill="#989CBA"/>
<rect x="1534.0" y="852.4" width="40.2" height="52.4" fill="#C89083"/>
<rect x="1361.2" y="908.1" width="40.2" height="52.4" fill="#A0A3BC"/>
<rect x="1404.4" y="908.1" width="40.2" height="52.4" fill="#C8C8C9"/>
<rect x="1447.6" y="908.1" width="40.2" height="52.4" fill="#A1A4BD"/>
<rect x="1490.8" y="908.1" width="40.2" height="52.4" fill="#BDBEC6"/>
<rect x="1534.0" y="908.1" width="40.2" height="52.4" fill="#C0C1C7"/>
<rect x="1361.2" y="963.8" width="40.2" height="52.4" fill="#CABCB9"/>
<rect x="1404.4" y="963.8" width="40.2" height="52.4" fill="#CBB5B0"/>
<rect x="1447.6" y="963.8" width="40.2" height="52.4" fill="#CABFBD"/>
<rect x="1490.8" y="963.8" width="40.2" height="52.4" fill="#C9C6C5"/>
<rect x="1534.0" y="963.8" width="40.2" height="52.4" fill="#ACAEC0"/>
<rect x="1361.2" y="1019.5" width="40.2" height="52.4" fill="#C67F70"/>
<rect x="1404.4" y="1019.5" width="40.2" height="52.4" fill="#C9988C"/>
<rect x="1447.6" y="1019.5" width="40.2" height="52.4" fill="#C37462"/>
<rect x="1490.8" y="1019.5" width="40.2" height="52.4" fill="#9196B7"/>
<rect x="1534.0" y="1019.5" width="40.2" height="52.4" fill="#CBB9B4"/>
<rect x="1361.2" y="1075.2" width="40.2" height="52.4" fill="#CA9B90"/>
<rect x="1404.4" y="1075.2" width="40.2" height="52.4" fill="#CABCB9"/>
<rect x="1447.6" y="1075.2" width="40.2" height="52.4" fill="#CBAFA8"/>
<rect x="1490.8" y="1075.2" width="40.2" height="52.4" fill="#CAC4C3"/>
<rect x="1534.0" y="1075.2" width="40.2" height="52.4" fill="#C47766"/>
<rect x="1361.2" y="1130.9" width="40.2" height="52.4" fill="#CBB5B0"/>
<rect x="1404.4" y="1130.9" width="40.2" height="52.4" fill="#CAA096"/>
<rect x="1447.6" y="1130.9" width="40.2" height="52.4" fill="#C57A6A"/>
<rect x="1490.8" y="1130.9" width="40.2" height="52.4" fill="#B0B2C2"/>
<rect x="1534.0" y="1130.9" width="40.2" height="52.4" fill="#C2C2C7"/>
<rect x="1355.9" y="664.5" width="223.4" height="65.2" fill="none" stroke="#555" stroke-width="1.1"/>
<rect x="1355.9" y="734.5" width="223.4" height="454.3" fill="none" stroke="#555" stroke-width="1.1"/>
<text x="1465" y="654.2" text-anchor="middle">Non-IBD</text>
<line x1="1381.3" y1="1188.8" x2="1381.3" y2="1192.3" stroke="#333" stroke-width="1"/>
<text transform="translate(1388.6,1198.7) rotate(-90)" text-anchor="end">LCA</text>
<line x1="1424.5" y1="1188.8" x2="1424.5" y2="1192.3" stroke="#333" stroke-width="1"/>
<text transform="translate(1431.8,1198.7) rotate(-90)" text-anchor="end">3-oxoLCA</text>
<line x1="1467.7" y1="1188.8" x2="1467.7" y2="1192.3" stroke="#333" stroke-width="1"/>
<text transform="translate(1475.0,1198.7) rotate(-90)" text-anchor="end">isoLCA</text>
<line x1="1510.9" y1="1188.8" x2="1510.9" y2="1192.3" stroke="#333" stroke-width="1"/>
<text transform="translate(1518.2,1198.7) rotate(-90)" text-anchor="end">CDCA</text>
<line x1="1554.1" y1="1188.8" x2="1554.1" y2="1192.3" stroke="#333" stroke-width="1"/>
<text transform="translate(1561.4,1198.7) rotate(-90)" text-anchor="end">DCA</text>
<text class="st" x="1378.7" y="694.1" text-anchor="middle" font-weight="bold" font-size="29.5" dy="14.7">*</text>
<text class="st" x="1378.0" y="876.3" text-anchor="middle" font-weight="bold" font-size="29.5" dy="14.7">*</text>
<text class="st" x="1464.4" y="1043.4" text-anchor="middle" font-weight="bold" font-size="29.5" dy="14.7">*</text>
<text class="st" x="1464.4" y="1154.8" text-anchor="middle" font-weight="bold" font-size="29.5" dy="14.7">*</text>
<text class="st" x="1378.0" y="1046.9" text-anchor="middle" font-weight="bold" font-size="29.5" dy="14.7">*</text>
<text class="st" x="1552.6" y="1043.4" text-anchor="middle" font-weight="bold" font-size="29.5" dy="14.7">*</text>
<rect x="1589.1" y="671.0" width="40.2" height="52.8" fill="#B3B4C3"/>
<rect x="1632.3" y="671.0" width="40.2" height="52.8" fill="#ACAEC0"/>
<rect x="1675.5" y="671.0" width="40.2" height="52.8" fill="#B3B4C3"/>
<rect x="1718.7" y="671.0" width="40.2" height="52.8" fill="#CABCB9"/>
<rect x="1761.9" y="671.0" width="40.2" height="52.8" fill="#B4B6C3"/>
<rect x="1589.1" y="741.0" width="40.2" height="52.4" fill="#CBB0AA"/>
<rect x="1632.3" y="741.0" width="40.2" height="52.4" fill="#CABCB9"/>
<rect x="1675.5" y="741.0" width="40.2" height="52.4" fill="#CBA8A0"/>
<rect x="1718.7" y="741.0" width="40.2" height="52.4" fill="#C5C5C8"/>
<rect x="1761.9" y="741.0" width="40.2" height="52.4" fill="#CBB9B4"/>
<rect x="1589.1" y="796.7" width="40.2" height="52.4" fill="#CBB9B4"/>
<rect x="1632.3" y="796.7" width="40.2" height="52.4" fill="#CABDBB"/>
<rect x="1675.5" y="796.7" width="40.2" height="52.4" fill="#C9C9C9"/>
<rect x="1718.7" y="796.7" width="40.2" height="52.4" fill="#C8C8C9"/>
<rect x="1761.9" y="796.7" width="40.2" height="52.4" fill="#CBB4AE"/>
<rect x="1589.1" y="852.4" width="40.2" height="52.4" fill="#CA9B90"/>
<rect x="1632.3" y="852.4" width="40.2" height="52.4" fill="#CBA8A0"/>
<rect x="1675.5" y="852.4" width="40.2" height="52.4" fill="#CA9B90"/>
<rect x="1718.7" y="852.4" width="40.2" height="52.4" fill="#B3B4C3"/>
<rect x="1761.9" y="852.4" width="40.2" height="52.4" fill="#CBB5B0"/>
<rect x="1589.1" y="908.1" width="40.2" height="52.4" fill="#CBB9B4"/>
<rect x="1632.3" y="908.1" width="40.2" height="52.4" fill="#CABCB9"/>
<rect x="1675.5" y="908.1" width="40.2" height="52.4" fill="#CAC4C3"/>
<rect x="1718.7" y="908.1" width="40.2" height="52.4" fill="#C0C1C7"/>
<rect x="1761.9" y="908.1" width="40.2" height="52.4" fill="#C9C6C5"/>
<rect x="1589.1" y="963.8" width="40.2" height="52.4" fill="#CA9D92"/>
<rect x="1632.3" y="963.8" width="40.2" height="52.4" fill="#CAA39A"/>
<rect x="1675.5" y="963.8" width="40.2" height="52.4" fill="#CA9B90"/>
<rect x="1718.7" y="963.8" width="40.2" height="52.4" fill="#B6B7C4"/>
<rect x="1761.9" y="963.8" width="40.2" height="52.4" fill="#CBB5B0"/>
<rect x="1589.1" y="1019.5" width="40.2" height="52.4" fill="#C9988C"/>
<rect x="1632.3" y="1019.5" width="40.2" height="52.4" fill="#CAA298"/>
<rect x="1675.5" y="1019.5" width="40.2" height="52.4" fill="#C99387"/>
<rect x="1718.7" y="1019.5" width="40.2" height="52.4" fill="#C2C2C7"/>
<rect x="1761.9" y="1019.5" width="40.2" height="52.4" fill="#C9988C"/>
<rect x="1589.1" y="1075.2" width="40.2" height="52.4" fill="#CABAB6"/>
<rect x="1632.3" y="1075.2" width="40.2" height="52.4" fill="#CBB5B0"/>
<rect x="1675.5" y="1075.2" width="40.2" height="52.4" fill="#CBB9B4"/>
<rect x="1718.7" y="1075.2" width="40.2" height="52.4" fill="#BFBFC6"/>
<rect x="1761.9" y="1075.2" width="40.2" height="52.4" fill="#CAC2C1"/>
<rect x="1589.1" y="1130.9" width="40.2" height="52.4" fill="#CBB0AA"/>
<rect x="1632.3" y="1130.9" width="40.2" height="52.4" fill="#CBA8A0"/>
<rect x="1675.5" y="1130.9" width="40.2" height="52.4" fill="#CA9B90"/>
<rect x="1718.7" y="1130.9" width="40.2" height="52.4" fill="#B3B4C3"/>
<rect x="1761.9" y="1130.9" width="40.2" height="52.4" fill="#CAC2C1"/>
<rect x="1583.8" y="664.5" width="223.4" height="65.2" fill="none" stroke="#555" stroke-width="1.1"/>
<rect x="1583.8" y="734.5" width="223.4" height="454.3" fill="none" stroke="#555" stroke-width="1.1"/>
<text x="1694" y="654.2" text-anchor="middle">Overall</text>
<line x1="1609.2" y1="1188.8" x2="1609.2" y2="1192.3" stroke="#333" stroke-width="1"/>
<text transform="translate(1616.5,1198.7) rotate(-90)" text-anchor="end">LCA</text>
<line x1="1652.4" y1="1188.8" x2="1652.4" y2="1192.3" stroke="#333" stroke-width="1"/>
<text transform="translate(1659.7,1198.7) rotate(-90)" text-anchor="end">3-oxoLCA</text>
<line x1="1695.6" y1="1188.8" x2="1695.6" y2="1192.3" stroke="#333" stroke-width="1"/>
<text transform="translate(1702.9,1198.7) rotate(-90)" text-anchor="end">isoLCA</text>
<line x1="1738.8" y1="1188.8" x2="1738.8" y2="1192.3" stroke="#333" stroke-width="1"/>
<text transform="translate(1746.1,1198.7) rotate(-90)" text-anchor="end">CDCA</text>
<line x1="1782.0" y1="1188.8" x2="1782.0" y2="1192.3" stroke="#333" stroke-width="1"/>
<text transform="translate(1789.3,1198.7) rotate(-90)" text-anchor="end">DCA</text>
<text class="st" x="1606.6" y="694.1" text-anchor="middle" font-weight="bold" font-size="29.5" dy="14.7">*</text>
<text class="st" x="1605.9" y="764.9" text-anchor="middle" font-weight="bold" font-size="29.5" dy="14.7">*</text>
<text class="st" x="1692.3" y="764.9" text-anchor="middle" font-weight="bold" font-size="29.5" dy="14.7">*</text>
<text class="st" x="1605.9" y="876.3" text-anchor="middle" font-weight="bold" font-size="29.5" dy="14.7">*</text>
<text class="st" x="1649.1" y="876.3" text-anchor="middle" font-weight="bold" font-size="29.5" dy="14.7">*</text>
<text class="st" x="1692.3" y="876.3" text-anchor="middle" font-weight="bold" font-size="29.5" dy="14.7">*</text>
<text class="st" x="1605.9" y="987.7" text-anchor="middle" font-weight="bold" font-size="29.5" dy="14.7">*</text>
<text class="st" x="1649.1" y="987.7" text-anchor="middle" font-weight="bold" font-size="29.5" dy="14.7">*</text>
<text class="st" x="1692.3" y="987.7" text-anchor="middle" font-weight="bold" font-size="29.5" dy="14.7">*</text>
<text class="st" x="1605.9" y="1043.4" text-anchor="middle" font-weight="bold" font-size="29.5" dy="14.7">*</text>
<text class="st" x="1649.1" y="1043.4" text-anchor="middle" font-weight="bold" font-size="29.5" dy="14.7">*</text>
<text class="st" x="1692.3" y="1043.4" text-anchor="middle" font-weight="bold" font-size="29.5" dy="14.7">*</text>
<text class="st" x="1778.7" y="1043.4" text-anchor="middle" font-weight="bold" font-size="29.5" dy="14.7">*</text>
<text class="st" x="1649.1" y="1099.1" text-anchor="middle" font-weight="bold" font-size="29.5" dy="14.7">*</text>
<text class="st" x="1605.9" y="1154.8" text-anchor="middle" font-weight="bold" font-size="29.5" dy="14.7">*</text>
<text class="st" x="1649.1" y="1154.8" text-anchor="middle" font-weight="bold" font-size="29.5" dy="14.7">*</text>
<text class="st" x="1692.3" y="1154.8" text-anchor="middle" font-weight="bold" font-size="29.5" dy="14.7">*</text>
<text class="st" x="1637.4" y="694.1" text-anchor="middle" font-weight="bold" font-size="29.5" dy="14.7">*</text>
<text x="1817.8" y="706.2" font-style="italic">Ruminococcus_gnavus</text>
<text x="1817.8" y="776.2" font-style="italic">Parabecterpodes_merdae</text>
<text x="1817.8" y="831.2" font-style="italic">Collinsella_aerofaciens</text>
<text x="1817.8" y="887.3" font-style="italic">Clostridium_citroniae</text>
<text x="1817.8" y="942.9" font-style="italic">Bacteroides_vulgatus</text>
<text x="1817.8" y="997.5" font-style="italic">Bacteroides_fragilis</text>
<text x="1817.8" y="1054.0" font-style="italic">Bacteroides_uniformis</text>
<text x="1817.8" y="1110.6" font-style="italic">Bacteroides_dorei</text>
<text x="1817.8" y="1164.5" font-style="italic">Bacteroides_cellulosilyticus</text>
<text x="135.7" y="706.3" font-weight="bold">Enriched in dysbiotic IBD</text>
<text transform="translate(413.9,963.3) rotate(-90)" text-anchor="middle" font-weight="bold">Depleted in dysbiotic IBD</text>
<text x="5" y="656.8" font-weight="bold" font-style="italic" font-size="33">b</text>
<path d="M440,738 H406 V803 M406,1119 V1183 H440" fill="none" stroke="#111" stroke-width="1.8"/>
<rect x="52.2" y="752.6" width="325.6" height="166.8" fill="#fff" stroke="#000" stroke-width="1.9"/>
<text x="66.7" y="778">Spearman’s correlation</text>
<text x="65.3" y="906">FDR adjusted p-value&lt;0.25</text>
<rect x="77.1" y="792.2" width="8.6" height="87.7" fill="url(#gb)"/>
<text x="93.3" y="805.8" font-size="19.3">0.4</text>
<rect x="77.1" y="798.4" width="2" height="1.5" fill="#fff"/><rect x="83.7" y="798.4" width="2" height="1.5" fill="#fff"/>
<text x="93.3" y="826.5" font-size="19.3">0.2</text>
<rect x="77.1" y="819.1" width="2" height="1.5" fill="#fff"/><rect x="83.7" y="819.1" width="2" height="1.5" fill="#fff"/>
<text x="93.3" y="847.1" font-size="19.3">0.0</text>
<rect x="77.1" y="839.7" width="2" height="1.5" fill="#fff"/><rect x="83.7" y="839.7" width="2" height="1.5" fill="#fff"/>
<text x="93.3" y="867.6" font-size="19.3">−0.2</text>
<rect x="77.1" y="860.2" width="2" height="1.5" fill="#fff"/><rect x="83.7" y="860.2" width="2" height="1.5" fill="#fff"/>
</svg>
</body></html>
